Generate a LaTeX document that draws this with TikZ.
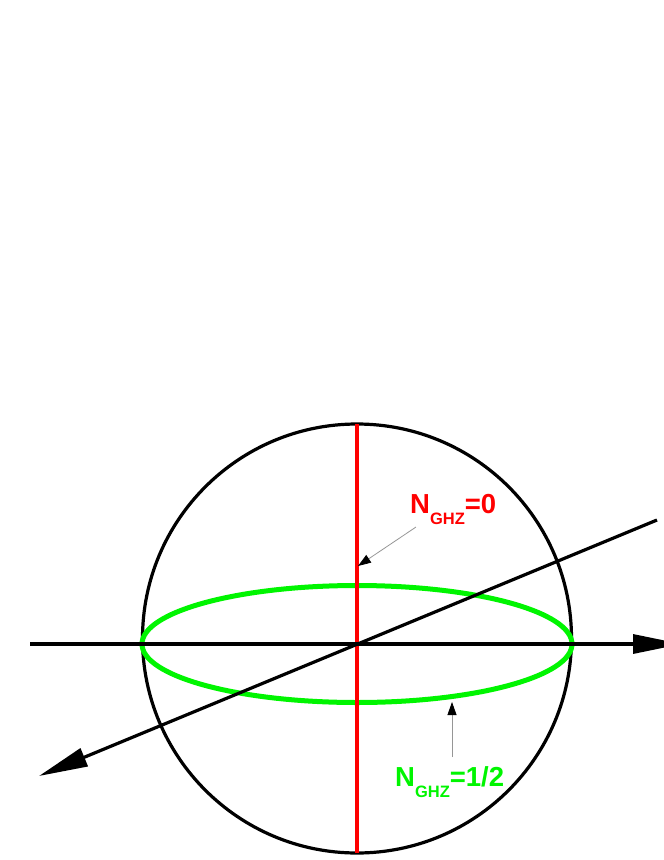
\documentclass[tikz,border=0pt]{standalone}
\usepackage{fontspec}
\setmainfont{Liberation Sans}
\usetikzlibrary{arrows.meta}
\definecolor{nred}{RGB}{255,0,0}
\definecolor{ngreen}{RGB}{0,245,0}
\definecolor{pointer}{RGB}{150,150,150}
\tikzset{
  axisline/.style={line width=3.2pt, black},
  bigtip/.style={-{Triangle[length=49pt,width=19pt]}},
  ptr/.style={line width=0.8pt, pointer, -{Triangle[length=13pt,width=9pt,color=black]}},
  lbl/.style={anchor=base west, inner sep=0pt, font=\fontsize{27.5}{27.5}\selectfont\bfseries},
}
\newcommand{\lowsub}[1]{\raisebox{-11pt}{\fontsize{16.5}{16.5}\selectfont #1}}
\begin{document}
\begin{tikzpicture}[x=1pt,y=-1pt]
\useasboundingbox (0,0) rectangle (664,860);
\clip (0,0) rectangle (664,860);
\coordinate (O) at (357,644);
\coordinate (L) at (30,644);
\coordinate (R) at (682,644);
\coordinate (D1) at (657,520);
\coordinate (D2) at (39,776);
\coordinate (T) at (357,424);
\coordinate (B) at (357,853);
% sphere
\draw[line width=3.2pt] (357,638.5) circle (214.5pt);
% green equator
\draw[line width=5pt, ngreen] (O) ellipse [x radius=215pt, y radius=58.5pt];
% red meridian
\draw[line width=4.5pt, nred] (T) -- (B);
% axes
\draw[axisline, bigtip] (L) -- (R);
\draw[axisline, bigtip] (D1) -- (D2);
% labels
\node[lbl, text=nred] (l0) at (410,513) {N\lowsub{GHZ}=0};
\node[lbl, text=ngreen] (l1) at (395,786) {N\lowsub{GHZ}=1/2};
\coordinate (p0s) at (416,527);
\coordinate (p0e) at (358,566);
\coordinate (p1s) at (452,757);
\coordinate (p1e) at (452,702);
\draw[ptr] (p0s) -- (p0e);
\draw[ptr] (p1s) -- (p1e);
\end{tikzpicture}
\end{document}
